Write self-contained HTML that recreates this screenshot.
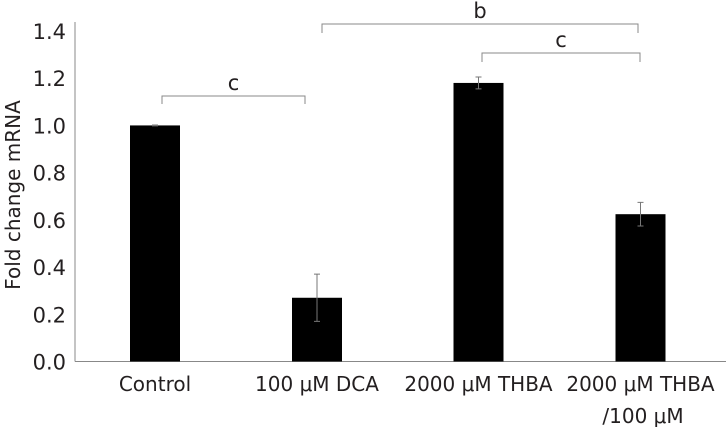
<!DOCTYPE html>
<html><head><meta charset="utf-8"><style>
html,body{margin:0;padding:0;background:#fff;}
svg{display:block;font-family:"DejaVu Sans","Liberation Sans",sans-serif;}
</style></head><body>
<svg id="chart" width="726" height="427"></svg>
<script>
const categories=["Control","100 μM DCA","2000 μM THBA","2000 μM THBA"];
const values=[1.0,0.27,1.18,0.624];
const errors=[0.002,0.1,0.025,0.05];
const yTicks=["0.0","0.2","0.4","0.6","0.8","1.0","1.2","1.4"];
const ns="http://www.w3.org/2000/svg";
const svg=document.getElementById('chart');
const x0=75,y0=361.5,yTop=31,yMax=1.4;
function y(v){return y0-(v/yMax)*(y0-yTop);}
const centers=[155,317,478.5,640.5];
function xc(i){return centers[i];}
function mk(t,a){const e=document.createElementNS(ns,t);for(const k in a)e.setAttribute(k,a[k]);svg.appendChild(e);return e;}
let e;
e=mk('line',{x1:x0,y1:22,x2:x0,y2:y0,stroke:'#888','stroke-width':1});


e=mk('line',{x1:x0,y1:y0,x2:726,y2:y0,stroke:'#888','stroke-width':1});


yTicks.forEach(t=>{e=mk('text',{x:66,y:y(parseFloat(t))+8,'text-anchor':'end','font-size':21,fill:'#231f20'});e.textContent=t;

});
e=mk('text',{x:0,y:0,transform:'translate(20,195) rotate(-90)','text-anchor':'middle','font-size':20,fill:'#231f20'});e.textContent='Fold change mRNA';


values.forEach((v,i)=>{
 const c=xc(i);
 e=mk('rect',{x:c-25,y:y(v),width:50,height:y0-y(v),fill:'#000'});
 
 
 const hi=y(v+errors[i]),lo=y(v-errors[i]);
 e=mk('path',{d:`M${c} ${hi}V${lo}M${c-3} ${hi}H${c+3}M${c-3} ${lo}H${c+3}`,stroke:'#777','stroke-width':1,fill:'none'});
 
 
 e=mk('text',{x:c,y:391,'text-anchor':'middle','font-size':20,fill:'#231f20'});e.textContent=categories[i];
 
 
});
e=mk('text',{x:643,y:423,'text-anchor':'middle','font-size':20,fill:'#231f20'});e.textContent='/100 μM';


const brackets=[[162,305,96,104,'c'],[322,638,24,33,'b'],[482,640,53,62,'c']];
brackets.forEach(b=>{
 e=mk('path',{d:`M${b[0]} ${b[3]}V${b[2]}H${b[1]}V${b[3]}`,stroke:'#888','stroke-width':1,fill:'none'});
 
 
 e=mk('text',{x:(b[0]+b[1])/2,y:b[2]-6,'text-anchor':'middle','font-size':21,fill:'#231f20'});e.textContent=b[4];
 
 
});
</script>
</body></html>
